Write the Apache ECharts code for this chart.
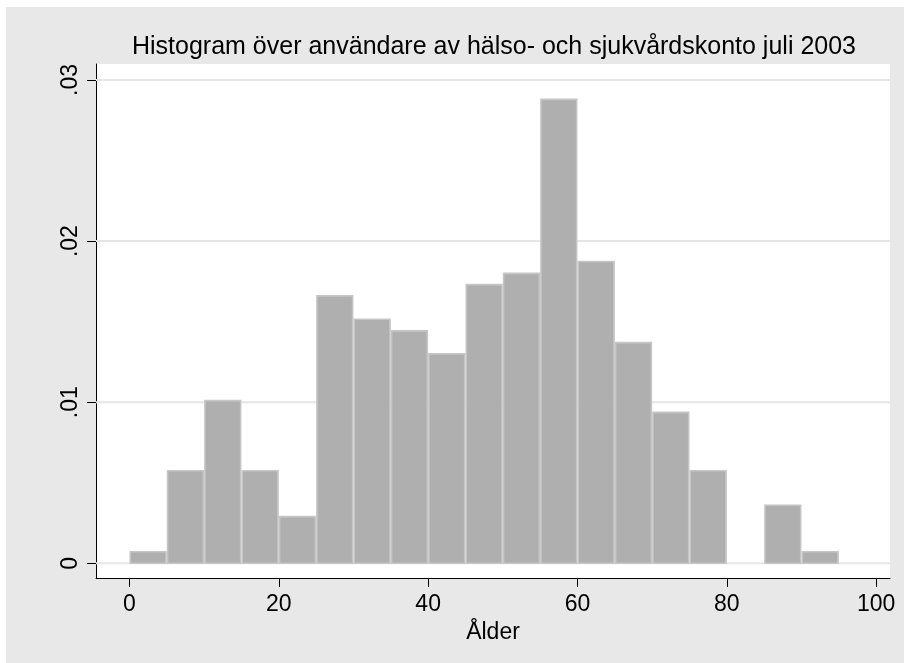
<!DOCTYPE html>
<html>
<head>
<meta charset="utf-8">
<script src="https://cdn.jsdelivr.net/npm/echarts@6/dist/echarts.min.js"></script>
<style>
  html, body { margin: 0; padding: 0; background: #ffffff; }
  #chart { width: 904px; height: 663px; }
</style>
</head>
<body>
<div id="chart"></div>
<script>
// ---- data ----
const titleText = 'Histogram över användare av hälso- och sjukvårdskonto juli 2003';
const xAxisName = 'Ålder';
const binStarts = [0, 5, 10, 15, 20, 25, 30, 35, 40, 45, 50, 55, 60, 65, 70, 75, 80, 85, 90];
const binWidth = 5;
const density = [0.00072, 0.00575, 0.0101, 0.00575, 0.0029, 0.0166, 0.01515, 0.01443, 0.0130,
                 0.0173, 0.0180, 0.0288, 0.01873, 0.0137, 0.00937, 0.00575, 0, 0.0036, 0.00072];
const xTicks = [0, 20, 40, 60, 80, 100];
const yTicks = [0, 0.01, 0.02, 0.03];

// ---- build ----
const seriesData = binStarts.map((s, i) => [s, s + binWidth, density[i]]);
const FONT = "'Liberation Sans', Arial, sans-serif";

const chart = echarts.init(document.getElementById('chart'), null, { renderer: 'canvas' });
chart.setOption({
  animation: false,
  backgroundColor: '#e8e8e8',
  graphic: [
    { type: 'rect', shape: { x: 0, y: 0, width: 904, height: 7 }, style: { fill: '#ffffff' }, silent: true },
    { type: 'rect', shape: { x: 0, y: 0, width: 6, height: 663 }, style: { fill: '#ffffff' }, silent: true }
  ],
  title: {
    text: titleText,
    left: 494,
    top: 35,
    padding: 0,
    textAlign: 'center',
    textStyle: { fontFamily: FONT, fontSize: 25, fontWeight: 'normal', color: '#000' }
  },
  grid: {
    left: 96, top: 64, width: 794, height: 514,
    show: true, backgroundColor: '#ffffff', borderWidth: 0,
    containLabel: false
  },
  xAxis: {
    type: 'value',
    min: -4.48, max: 101.85,
    name: xAxisName,
    nameLocation: 'middle',
    nameGap: 38,
    nameTextStyle: { fontFamily: FONT, fontSize: 23, color: '#000' },
    axisLine: { show: true, onZero: false, lineStyle: { color: '#000', width: 1 } },
    axisTick: { show: true, length: 9, customValues: xTicks, lineStyle: { color: '#000', width: 1 } },
    axisLabel: { customValues: xTicks, margin: 15, fontFamily: FONT, fontSize: 23, color: '#000' },
    splitLine: { show: false }
  },
  yAxis: {
    type: 'value',
    min: -0.000912, max: 0.030994,
    axisLine: { show: true, onZero: false, lineStyle: { color: '#000', width: 1 } },
    axisTick: { show: true, length: 9, customValues: yTicks, lineStyle: { color: '#000', width: 1 } },
    axisLabel: {
      customValues: yTicks, rotate: 90, margin: 14,
      fontFamily: FONT, fontSize: 23, color: '#000',
      formatter: v => (v === 0 ? '0' : String(+v.toFixed(4)).replace(/^0/, ''))
    },
    splitLine: { show: false }
  },
  series: [
    {
      type: 'custom',
      z: 1,
      silent: true,
      data: yTicks.map(v => [v]),
      encode: { y: 0 },
      renderItem: function (params, api) {
        const v = api.value(0);
        const cs = params.coordSys;
        const p = api.coord([0, v]);
        return {
          type: 'line',
          shape: { x1: cs.x, y1: p[1], x2: cs.x + cs.width, y2: p[1] },
          style: { stroke: '#e6e6e6', lineWidth: 2 }
        };
      }
    },
    {
      type: 'custom',
      z: 2,
      data: seriesData,
      renderItem: function (params, api) {
        const x0 = api.value(0), x1 = api.value(1), v = api.value(2);
        if (!v) return null;
        const p0 = api.coord([x0, v]);
        const p1 = api.coord([x1, 0]);
        return {
          type: 'rect',
          shape: { x: p0[0] + 0.8, y: p0[1], width: p1[0] - p0[0] - 1.6, height: p1[1] - p0[1] },
          style: { fill: '#afafaf', stroke: '#c6c6c6', lineWidth: 1.6 }
        };
      }
    }
  ]
});
</script>
</body>
</html>
